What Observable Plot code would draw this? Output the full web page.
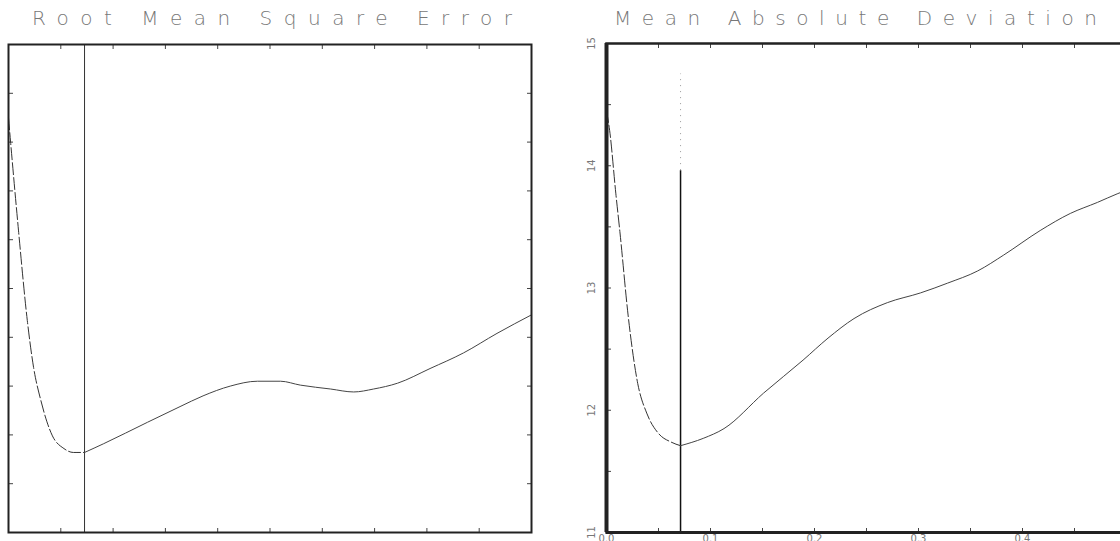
<!DOCTYPE html>
<html><head><meta charset="utf-8">
<script src="https://cdn.jsdelivr.net/npm/d3@7"></script>
<script src="https://cdn.jsdelivr.net/npm/@observablehq/plot@0.6"></script>
<style>
html,body{margin:0;padding:0;background:#fff;overflow:hidden;width:1120px;height:541px}
#wrap{position:relative;width:1120px;height:541px;overflow:hidden}
.panel{position:absolute;top:0}
.title{position:absolute;top:5px;font-family:"DejaVu Sans";font-size:20px;font-weight:200;color:#777;white-space:nowrap;line-height:26px}
</style></head><body><div id="wrap"></div>
<script>
// ---- data ----
const titles = ["Root Mean Square Error", "Mean Absolute Deviation"];
const rmseX = [0, 0.002, 0.0096, 0.018, 0.024, 0.031, 0.042, 0.053, 0.062, 0.0727, 0.091, 0.133, 0.164, 0.186, 0.212, 0.238, 0.260, 0.279, 0.308, 0.330, 0.349, 0.372, 0.403, 0.435, 0.467, 0.5];
const rmseY = [19.25, 19.0, 18.09, 17.17, 16.69, 16.35, 15.99, 15.86, 15.82, 15.82, 15.91, 16.13, 16.29, 16.40, 16.50, 16.55, 16.55, 16.51, 16.47, 16.44, 16.47, 16.53, 16.68, 16.84, 17.04, 17.23];
const madX = [0, 0.003, 0.009, 0.013, 0.021, 0.030, 0.039, 0.050, 0.062, 0.0712, 0.093, 0.113, 0.151, 0.189, 0.213, 0.238, 0.270, 0.302, 0.328, 0.357, 0.382, 0.417, 0.446, 0.472, 0.491, 0.5];
const madY = [14.45, 14.29, 13.77, 13.45, 12.76, 12.22, 11.97, 11.81, 11.74, 11.71, 11.77, 11.85, 12.14, 12.41, 12.59, 12.75, 12.88, 12.96, 13.04, 13.14, 13.27, 13.47, 13.61, 13.70, 13.77, 13.80];
const rmseMin = 0.0727;
const madMin = 0.0712;
const madVisibleTop = 13.96, madFadedTop = 14.75;
const xTicks = [0, 0.05, 0.1, 0.15, 0.2, 0.25, 0.3, 0.35, 0.4, 0.45, 0.5];
const xLabels = [0, 0.1, 0.2, 0.3, 0.4];
const rmseTicks = [15, 15.5, 16, 16.5, 17, 17.5, 18, 18.5, 19, 19.5, 20];
const madTicks = [11, 11.5, 12, 12.5, 13, 13.5, 14, 14.5, 15];
const madLabels = [11, 12, 13, 14, 15];

const rmse = rmseX.map((x, i) => ({x, y: rmseY[i]}));
const mad = madX.map((x, i) => ({x, y: madY[i]}));

const wrap = document.getElementById("wrap");
const ink = "#222";
const blank = () => "";
const noLab = {label: null};

const left = Plot.plot({
  width: 560, height: 541,
  marginLeft: 8, marginRight: 29, marginTop: 44, marginBottom: 9,
  x: {domain: [0, 0.5], label: null},
  y: {domain: [15, 20], label: null},
  style: {background: "transparent"},
  marks: [
    Plot.axisY(rmseTicks, {...noLab, anchor: "left", tickSize: 5, insetLeft: 5, tickFormat: blank, stroke: "#444"}),
    Plot.axisY(rmseTicks, {...noLab, anchor: "right", tickSize: 5, insetRight: 5, tickFormat: blank, stroke: "#444"}),
    Plot.axisX(xTicks, {...noLab, anchor: "bottom", tickSize: 4, insetBottom: 4, tickFormat: blank, stroke: "#444"}),
    Plot.axisX(xTicks, {...noLab, anchor: "top", tickSize: 4, insetTop: 4, tickFormat: blank, stroke: "#444"}),
    Plot.ruleX([rmseMin], {stroke: "#333", strokeWidth: 1}),
    Plot.line(rmse.filter(d => d.x <= rmseMin), {x: "x", y: "y", curve: "monotone-x", stroke: "#333", strokeWidth: 1, strokeDasharray: "12,3"}),
    Plot.line(rmse.filter(d => d.x >= rmseMin), {x: "x", y: "y", curve: "monotone-x", stroke: "#444", strokeWidth: 1}),
    Plot.frame({stroke: ink, strokeWidth: 2})
  ]
});
left.classList.add("panel");
left.style.left = "0px";
wrap.appendChild(left);

const right = Plot.plot({
  width: 575, height: 541,
  marginLeft: 46, marginRight: 9, marginTop: 43, marginBottom: 9,
  x: {domain: [0, 0.5], label: null},
  y: {domain: [11, 15], label: null},
  style: {background: "transparent", overflow: "visible"},
  marks: [
    Plot.axisY(madTicks, {...noLab, anchor: "left", tickSize: 5, insetLeft: 5, tickFormat: blank, stroke: "#444"}),
    Plot.axisY(madLabels, {...noLab, anchor: "left", tickSize: 0, tickPadding: 12, tickRotate: -90, tickFormat: d3.format("d"), fontSize: 10, fill: "#777", fontFamily: "DejaVu Sans"}),
    Plot.axisX(xTicks, {...noLab, anchor: "bottom", tickSize: 4, insetBottom: 4, tickFormat: blank, stroke: "#444"}),
    Plot.axisX(xTicks, {...noLab, anchor: "top", tickSize: 4, insetTop: 4, tickFormat: blank, stroke: "#444"}),
    Plot.axisX(xLabels, {...noLab, anchor: "bottom", tickSize: 0, tickPadding: 2, tickFormat: d3.format(".1f"), fontSize: 10, fill: "#777", fontFamily: "DejaVu Sans"}),
    Plot.ruleX([madMin], {y1: 11, y2: madVisibleTop, stroke: "#111", strokeWidth: 1.5}),
    Plot.ruleX([madMin], {y1: madVisibleTop, y2: madFadedTop, stroke: "#999", strokeWidth: 1, strokeDasharray: "1,5"}),
    Plot.line(mad.filter(d => d.x <= madMin), {x: "x", y: "y", curve: "monotone-x", stroke: "#333", strokeWidth: 1, strokeDasharray: "12,3"}),
    Plot.line(mad.filter(d => d.x >= madMin), {x: "x", y: "y", curve: "monotone-x", stroke: "#444", strokeWidth: 1}),
    Plot.frame({stroke: ink, strokeWidth: 2.5}),
    Plot.ruleX([0], {stroke: ink, strokeWidth: 4}),
    Plot.ruleY([11], {stroke: ink, strokeWidth: 3})
  ]
});
right.classList.add("panel");
right.style.left = "560px";
wrap.appendChild(right);

// titles: spread letters so each title spans the same width as in the reference
function addTitle(text, x0, x1) {
  const t = document.createElement("div");
  t.className = "title";
  t.textContent = text;
  t.style.left = x0 + "px";
  wrap.appendChild(t);
  const natural = t.getBoundingClientRect().width;
  const ls = (x1 - x0 - natural) / (text.length - 1);
  t.style.letterSpacing = ls + "px";
}
addTitle(titles[0], 32, 512);
addTitle(titles[1], 614, 1097);
</script>
</body></html>
